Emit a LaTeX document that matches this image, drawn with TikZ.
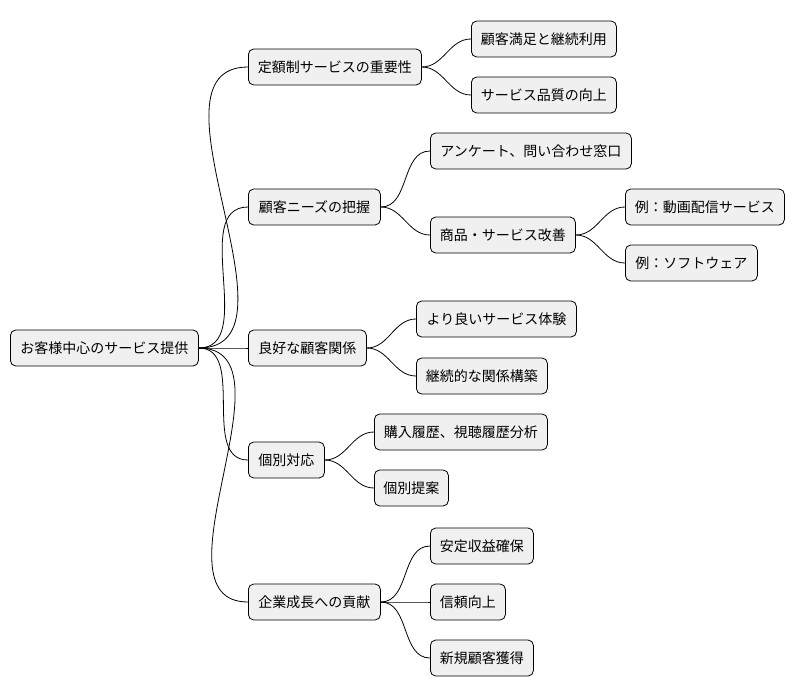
\documentclass[tikz,border=0pt]{standalone}
\usepackage{fontspec}
\setmainfont{Noto Sans CJK JP}
\begin{document}
\begin{tikzpicture}[x=0.75pt,y=-0.75pt,
 box/.style={draw=black,fill=black!6,rounded corners=4pt,anchor=west,minimum height=27pt,inner sep=0pt,font=\fontsize{10.5pt}{12pt}\selectfont,line width=0.6pt},
 con/.style={draw=black,line width=0.6pt}]
\useasboundingbox (0,0) rectangle (796,696);
\node[box,minimum width=141pt] (r) at (10,348) {お客様中心のサービス提供};
\node[box,minimum width=129.75pt] (a) at (248,67) {定額制サービスの重要性};
\node[box,minimum width=99pt] (b) at (248,207) {顧客ニーズの把握};
\node[box,minimum width=88.5pt] (c) at (248,348) {良好な顧客関係};
\node[box,minimum width=57pt] (d) at (248,460) {個別対応};
\node[box,minimum width=99pt] (e) at (248,602) {企業成長への貢献};
\node[box,minimum width=108.75pt] (a1) at (471,39) {顧客満足と継続利用};
\node[box,minimum width=108.75pt] (a2) at (471,95) {サービス品質の向上};
\node[box,minimum width=150.75pt] (b1) at (430,151) {アンケート、問い合わせ窓口};
\node[box,minimum width=108.75pt] (b2) at (430,235) {商品・サービス改善};
\node[box,minimum width=119.25pt] (b21) at (625,207) {例：動画配信サービス};
\node[box,minimum width=99pt] (b22) at (625,263) {例：ソフトウェア};
\node[box,minimum width=120pt] (c1) at (416,319) {より良いサービス体験};
\node[box,minimum width=98.25pt] (c2) at (416,376) {継続的な関係構築};
\node[box,minimum width=129.75pt] (d1) at (374,432) {購入履歴、視聴履歴分析};
\node[box,minimum width=55.5pt] (d2) at (374,488) {個別提案};
\node[box,minimum width=77.25pt] (e1) at (430,546) {安定収益確保};
\node[box,minimum width=56.25pt] (e2) at (430,602) {信頼向上};
\node[box,minimum width=77.25pt] (e3) at (430,658) {新規顧客獲得};
\foreach \p/\c in {r/a,r/b,r/c,r/d,r/e,a/a1,a/a2,b/b1,b/b2,b2/b21,b2/b22,c/c1,c/c2,d/d1,d/d2,e/e1,e/e2,e/e3}
 \draw[con] (\p.east) to[out=0,in=180] (\c.west);
\end{tikzpicture}
\end{document}
